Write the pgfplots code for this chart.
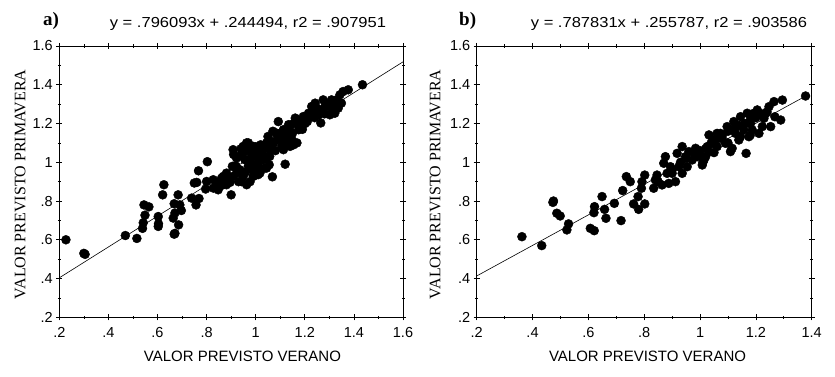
\documentclass[border=0pt]{standalone}
\usepackage{pgfplots}
\pgfplotsset{compat=1.18}
\usepackage{fontspec}
\setmainfont{Liberation Sans}
\newfontfamily\serifff{Liberation Serif}
\pgfplotstableread{
x y
0.227 0.600
0.300 0.530
0.305 0.525
0.469 0.622
0.516 0.607
0.545 0.780
0.549 0.727
0.542 0.688
0.539 0.659
0.565 0.770
0.626 0.884
0.621 0.832
0.603 0.720
0.604 0.683
0.603 0.669
0.668 0.629
0.671 0.633
0.664 0.712
0.668 0.786
0.684 0.832
0.691 0.780
0.686 0.677
0.697 0.751
0.671 0.738
0.739 0.815
0.757 0.780
0.769 0.813
0.760 0.896
0.750 0.893
0.767 0.956
0.803 1.003
0.800 0.901
0.796 0.862
0.827 0.867
0.854 0.896
0.847 0.858
0.895 0.896
0.900 0.832
0.905 0.979
0.908 1.065
0.929 1.030
0.936 0.961
0.943 0.900
0.963 1.100
0.970 0.980
0.977 0.900
0.922 0.944
0.881 0.944
0.868 0.927
0.989 1.082
1.003 1.030
1.010 0.979
1.017 0.944
1.030 1.013
1.044 1.100
1.050 1.133
1.064 1.065
1.055 0.987
1.068 0.925
1.085 1.150
1.092 1.210
1.113 1.065
1.120 0.990
1.127 1.150
1.140 1.185
1.148 1.116
1.161 1.228
1.168 1.100
1.175 1.168
1.180 1.200
1.194 1.236
1.215 1.253
1.228 1.288
1.242 1.305
1.256 1.245
1.265 1.203
1.275 1.322
1.295 1.288
1.302 1.245
1.315 1.270
1.329 1.322
1.336 1.279
1.343 1.348
1.356 1.365
1.377 1.374
1.435 1.400
0.949 1.082
0.982 1.030
0.996 1.056
1.023 1.056
1.036 0.970
0.956 1.013
0.943 0.944
0.989 0.961
1.057 1.030
1.074 1.100
1.099 1.116
1.106 1.082
1.127 1.100
1.140 1.082
1.154 1.090
1.113 1.168
1.134 1.194
1.154 1.200
1.187 1.185
1.201 1.200
1.208 1.219
1.222 1.236
1.249 1.279
1.282 1.288
1.235 1.262
1.309 1.322
1.322 1.253
1.349 1.305
0.827 0.910
0.861 0.918
0.841 0.889
0.908 0.927
0.881 0.884
0.915 0.979
0.922 1.022
0.949 0.927
0.963 0.884
0.990 0.927
1.010 0.936
1.044 0.970
0.920 0.980
0.950 1.050
0.970 1.060
0.980 1.000
1.000 1.080
1.020 1.090
1.030 1.040
1.050 1.070
1.060 1.110
1.080 1.060
1.090 1.130
1.100 1.150
1.120 1.130
1.150 1.150
1.170 1.220
1.190 1.170
1.210 1.210
1.240 1.230
1.260 1.270
1.280 1.250
1.300 1.300
1.320 1.300
0.880 0.910
0.860 0.880
0.930 0.900
0.960 0.950
1.000 0.990
1.020 1.010
1.040 1.020
0.910 1.040
0.940 1.070
1.070 1.160
0.970 1.100
}\dataA
\pgfplotstableread{
x y
0.362 0.616
0.433 0.570
0.473 0.793
0.475 0.800
0.487 0.737
0.499 0.723
0.529 0.682
0.523 0.651
0.607 0.659
0.621 0.647
0.622 0.771
0.620 0.740
0.649 0.823
0.658 0.757
0.663 0.711
0.693 0.788
0.717 0.699
0.723 0.854
0.736 0.926
0.750 0.900
0.762 0.785
0.780 0.757
0.778 0.823
0.790 0.866
0.792 0.900
0.802 0.934
0.802 0.785
0.834 0.866
0.840 0.909
0.870 0.995
0.876 1.029
0.864 0.883
0.888 0.891
0.900 0.943
0.912 0.900
0.924 0.977
0.936 1.081
0.948 1.029
0.954 0.977
0.936 0.943
0.918 1.046
0.984 1.072
0.990 1.029
1.008 0.986
1.014 1.012
1.026 1.081
1.032 1.141
1.020 1.029
0.996 1.046
1.050 1.115
1.061 1.081
1.073 1.149
1.091 1.098
1.097 1.184
1.109 1.055
1.115 1.072
1.121 1.210
1.127 1.149
1.145 1.235
1.139 1.115
1.157 1.167
1.165 1.046
1.175 1.132
1.181 1.201
1.193 1.253
1.205 1.270
1.211 1.149
1.223 1.184
1.229 1.227
1.247 1.287
1.265 1.313
1.268 1.235
1.289 1.218
1.295 1.321
1.378 1.342
0.960 1.055
0.972 1.012
1.061 1.149
1.079 1.124
1.127 1.184
1.187 1.167
1.235 1.253
1.253 1.184
1.032 1.055
1.044 1.098
0.882 0.943
0.894 0.977
0.846 0.934
1.169 1.253
1.145 1.132
0.980 1.040
1.000 1.060
1.020 1.070
1.040 1.100
1.060 1.120
1.080 1.140
1.100 1.160
1.120 1.170
1.140 1.190
1.160 1.200
1.180 1.220
1.200 1.230
1.220 1.250
1.240 1.260
0.930 1.000
0.950 1.020
0.900 0.960
1.010 1.000
1.050 1.050
1.100 1.100
1.180 1.140
0.850 0.900
}\dataB
\begin{document}
\begin{tikzpicture}
\useasboundingbox (0pt,0pt) rectangle (835pt,-377pt);
\pgfplotsset{
  myax/.style={
    scale only axis, anchor=south west, clip mode=individual,
    axis line style={line width=0.8pt},
    tick style={black, line width=0.7pt},
    tick align=center,
    major tick length=6pt, minor tick length=3pt,
    minor x tick num=1, minor y tick num=1,
    ymin=0.2, ymax=1.6,
    ytick={0.2,0.4,0.6,0.8,1,1.2,1.4,1.6},
    yticklabels={.2,.4,.6,.8,1,1.2,1.4,1.6},
    ticklabel style={font=\fontsize{14.5}{14.5}\selectfont},
    xticklabel style={yshift=-4pt},
    /pgf/number format/assume math mode=true,
    title style={font=\fontsize{14.5}{15}\selectfont, anchor=center},
    xlabel style={font=\fontsize{15}{15}\selectfont, anchor=center},
    ylabel style={font=\serifff\fontsize{16}{16}\selectfont, anchor=center},
  }
}
\begin{axis}[myax,
  at={(59.3pt,-317.3pt)}, width=343.7pt, height=271.3pt,
  xmin=0.2, xmax=1.6,
  xtick={0.2,0.4,0.6,0.8,1,1.2,1.4,1.6},
  xticklabels={.2,.4,.6,.8,1,1.2,1.4,1.6},
  title={\scalebox{1.14}[1]{y = .796093x + .244494, r2 = .907951}},
  title style={at={(axis description cs:0.549,1.059)}},
  xlabel={VALOR PREVISTO VERANO},
  xlabel style={at={(axis description cs:0.533,-0.143)}},
  ylabel={VALOR PREVISTO PRIMAVERA},
  ylabel style={at={(axis description cs:-0.114,0.49)}},
]
\addplot[black, line width=0.6pt] coordinates {(0.2,0.4037) (1.6,1.5182)};
\addplot[only marks, mark=*, mark size=4.5pt, black] table[x=x,y=y] {\dataA};
\node[font=\serifff\bfseries\fontsize{19}{19}\selectfont] at (axis description cs:-0.024,1.092) {a)};
\end{axis}
\begin{axis}[myax,
  at={(476.7pt,-317.3pt)}, width=335pt, height=271.3pt,
  xmin=0.2, xmax=1.4,
  xtick={0.2,0.4,0.6,0.8,1,1.2,1.4},
  xticklabels={.2,.4,.6,.8,1,1.2,1.4},
  title={\scalebox{1.14}[1]{y = .787831x + .255787, r2 = .903586}},
  title style={at={(axis description cs:0.574,1.059)}},
  xlabel={VALOR PREVISTO VERANO},
  xlabel style={at={(axis description cs:0.51,-0.143)}},
  ylabel={VALOR PREVISTO PRIMAVERA},
  ylabel style={at={(axis description cs:-0.124,0.49)}},
]
\addplot[black, line width=0.6pt] coordinates {(0.2,0.4133) (1.378,1.3414)};
\addplot[only marks, mark=*, mark size=4.5pt, black] table[x=x,y=y] {\dataB};
\node[font=\serifff\bfseries\fontsize{19}{19}\selectfont] at (axis description cs:-0.027,1.092) {b)};
\end{axis}
\end{tikzpicture}
\end{document}
